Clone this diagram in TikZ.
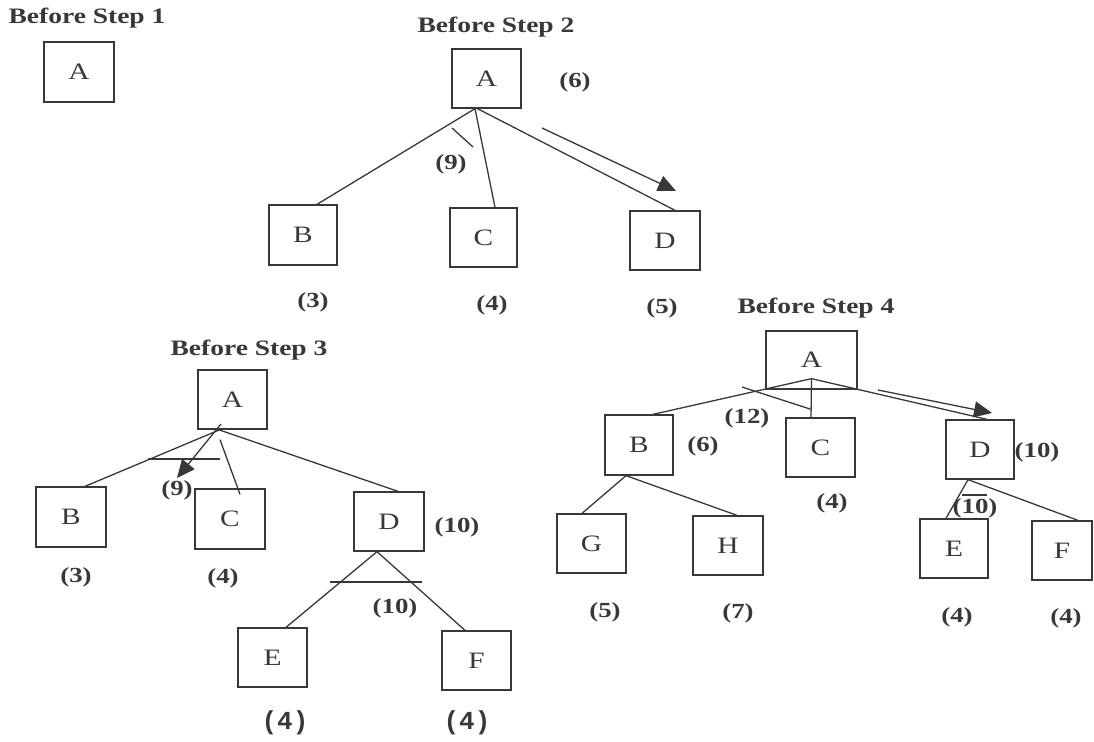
\documentclass[tikz,border=0pt]{standalone}
\usepackage{fontspec}
\setmainfont{Liberation Serif}[FakeStretch=1.25]
\newfontfamily\bigfont{Liberation Mono}
\usetikzlibrary{arrows.meta}
\definecolor{ink}{gray}{0.22}
\tikzset{
  box/.style={draw=ink,line width=1.3pt,minimum width=68pt,minimum height=60pt,
    inner sep=0pt,text=ink,font=\fontsize{23.5}{24}\selectfont},
  wt/.style={text=ink,inner sep=0pt,font=\bfseries\fontsize{21.5}{22}\selectfont},
  bigwt/.style={text=ink,inner sep=0pt,font=\bigfont\bfseries\fontsize{26}{28}\selectfont},
  ttl/.style={text=ink,inner sep=0pt,font=\bfseries\fontsize{22}{24}\selectfont},
  edge/.style={draw=ink,line width=1.3pt},
  mv/.style={draw=ink,line width=1.3pt,-{Triangle[length=18pt,width=16pt]}}
}
\begin{document}
\begin{tikzpicture}[x=1pt,y=-1pt]
  \useasboundingbox (0,0) rectangle (1094,741);
  % step 1
  \node[ttl] (t1) at (87,18) {Before Step 1};
  \node[box,minimum width=70pt] (s1a) at (79,72) {A};
  % step 2
  \node[ttl] (t2) at (496,27) {Before Step 2};
  \node[box,minimum width=69pt,minimum height=59pt] (s2a) at (486.5,78.5) {A};
  \node[box] (s2b) at (303,235) {B};
  \node[box,minimum width=67pt,minimum height=59pt] (s2c) at (483.5,237.5) {C};
  \node[box,minimum width=70pt,minimum height=59pt] (s2d) at (665,240.5) {D};
  \node[wt] (w2a) at (575,82) {(6)};
  \node[wt] (w2x) at (451,164) {(9)};
  \node[wt] (w2b) at (313,302) {(3)};
  \node[wt] (w2c) at (492,305) {(4)};
  \node[wt] (w2d) at (662,308) {(5)};
  \draw[edge] ([xshift=-11.5pt]s2a.south) -- ([xshift=14pt]s2b.north);
  \draw[edge] ([xshift=-11.5pt]s2a.south) -- ([xshift=11.5pt]s2c.north);
  \draw[edge] ([xshift=-9pt]s2a.south) -- ([xshift=10pt]s2d.north);
  \draw[edge] (452,128) -- (473,147);
  \draw[mv] (542,128) -- (676,191);
  % step 3
  \node[ttl] (t3) at (249,350) {Before Step 3};
  \node[box,minimum width=69pt,minimum height=59pt] (s3a) at (232.5,399.5) {A};
  \node[box,minimum width=70pt] (s3b) at (71,517) {B};
  \node[box,minimum width=70pt] (s3c) at (230,519) {C};
  \node[box,minimum width=70pt,minimum height=59pt] (s3d) at (389,521.5) {D};
  \node[box,minimum width=69pt,minimum height=59pt] (s3e) at (272.5,657.5) {E};
  \node[box,minimum width=69pt,minimum height=59pt] (s3f) at (476.5,660.5) {F};
  \node[wt] (w3d) at (457,527) {(10)};
  \node[wt] (w3x) at (177,490) {(9)};
  \node[wt] (w3b) at (76,577) {(3)};
  \node[wt] (w3c) at (223,578) {(4)};
  \node[wt] (w3y) at (395,608) {(10)};
  \node[bigwt] (w3e) at (285,723) {(4)};
  \node[bigwt] (w3f) at (467,723) {(4)};
  \draw[edge] ([xshift=-12.5pt]s3a.south) -- ([xshift=14pt]s3b.north);
  \draw[edge] ([shift={(-12.5pt,-10pt)}]s3a.south) -- ([shift={(10pt,-6pt)}]s3c.north);
  \draw[edge] ([xshift=-14pt]s3a.south) -- ([xshift=9pt]s3d.north);
  \draw[edge] (148,459) -- (220,459);
  \draw[mv] (221,424) -- (177,478);
  \draw[edge] ([xshift=-12pt]s3d.south) -- ([xshift=13.5pt]s3e.north);
  \draw[edge] ([xshift=-12pt]s3d.south) -- ([xshift=-11.5pt]s3f.north);
  \draw[edge] (330,582) -- (422,582);
  % step 4
  \node[ttl] (t4) at (816,308) {Before Step 4};
  \node[box,minimum width=91pt,minimum height=58pt] (s4a) at (811.5,360) {A};
  \node[box] (s4b) at (639,445) {B};
  \node[box,minimum width=69pt,minimum height=59pt] (s4c) at (820.5,447.5) {C};
  \node[box,minimum height=59pt] (s4d) at (980,449.5) {D};
  \node[box,minimum width=69pt,minimum height=59pt] (s4g) at (591.5,543.5) {G};
  \node[box,minimum width=70pt,minimum height=59pt] (s4h) at (728,545.5) {H};
  \node[box,minimum height=59pt] (s4e) at (954,548.5) {E};
  \node[box,minimum width=60pt,minimum height=59pt] (s4f) at (1062,550.5) {F};
  \node[wt] (w4x) at (747,418) {(12)};
  \node[wt] (w4b) at (703,446) {(6)};
  \node[wt] (w4d) at (1037,452) {(10)};
  \node[wt] (w4c) at (832,503) {(4)};
  \node[wt] (w4y) at (975,508) {(10)};
  \node[wt] (w4g) at (605,612) {(5)};
  \node[wt] (w4h) at (738,613) {(7)};
  \node[wt] (w4e) at (957,617) {(4)};
  \node[wt] (w4f) at (1066,618) {(4)};
  \draw[edge] ([yshift=11pt]s4a.south) -- ([xshift=14pt]s4b.north);
  \draw[edge] ([yshift=11pt]s4a.south) -- ([xshift=-9.5pt]s4c.north);
  \draw[edge] ([yshift=11pt]s4a.south) -- ([xshift=7pt]s4d.north);
  \draw[edge] (742,387) -- (810,409);
  \draw[mv] (878,390) -- (992,413);
  \draw[edge] ([xshift=-13pt]s4b.south) -- ([xshift=-9.5pt]s4g.north);
  \draw[edge] ([xshift=-13pt]s4b.south) -- ([xshift=9pt]s4h.north);
  \draw[edge] ([xshift=-12pt]s4d.south) -- ([xshift=-8pt]s4e.north);
  \draw[edge] ([xshift=-12pt]s4d.south) -- ([xshift=16pt]s4f.north);
  \draw[edge] (962,495) -- (987,495);
\end{tikzpicture}
\end{document}
